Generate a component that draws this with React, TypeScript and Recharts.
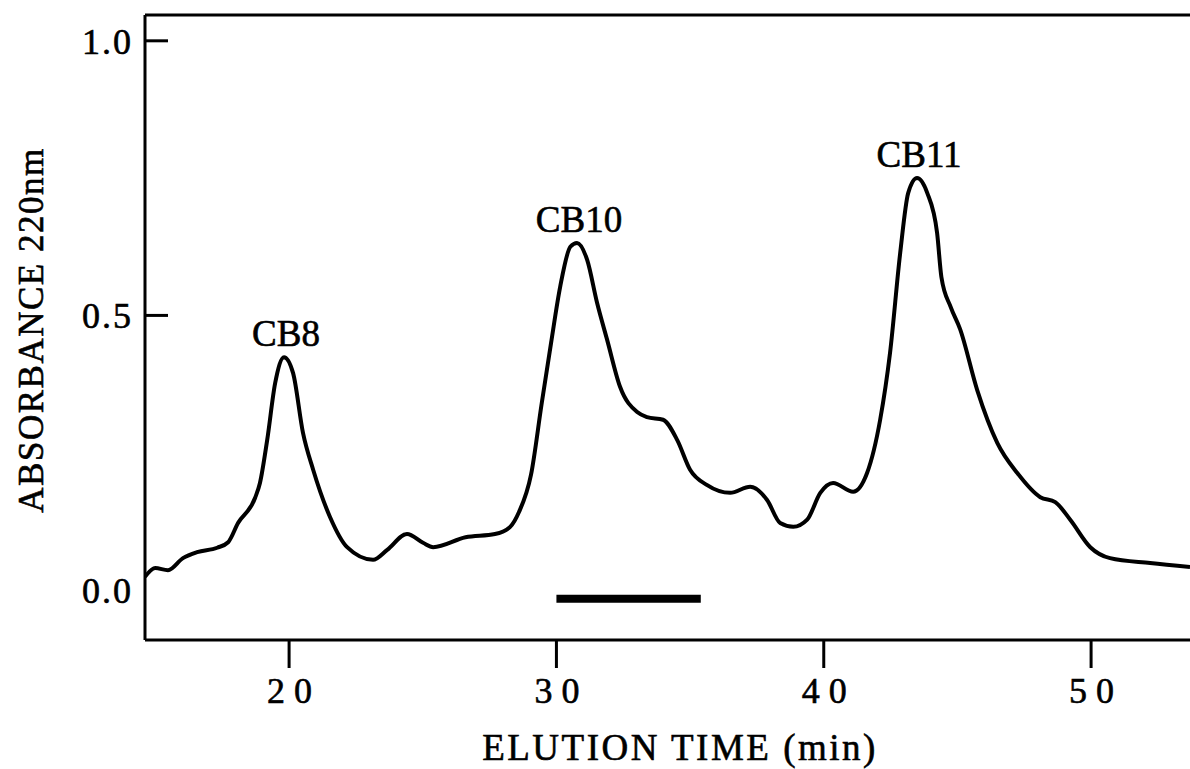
import { LineChart, Line, XAxis, YAxis, ReferenceLine, ReferenceDot, Label } from "recharts"

const FONT = "'Liberation Serif', 'Times New Roman', serif"
// scanned-looking type is a little heavier than the plain face
const INK = { fill: "#000", stroke: "#000", strokeWidth: 0.6 }

// elution time (min) and absorbance at 220 nm, traced along the run
const TIME = [
  14.61, 14.99, 15.47, 16.03, 16.56, 17.31, 17.72, 18.09, 18.73, 18.91, 19.18, 19.48, 19.81, 20.15,
  20.52, 20.9, 21.53, 22.17, 23.14, 23.67, 24.41, 25.01, 25.39, 26.6, 27.7, 28.27, 28.6, 29.05,
  29.45, 29.8, 30.14, 30.52, 30.77, 31.15, 31.52, 31.9, 32.38, 33.02, 33.39, 33.99, 34.52, 35.0,
  35.64, 36.5, 37.25, 37.88, 38.37, 38.86, 39.38, 39.87, 40.35, 41.1, 41.62, 42.11, 42.48, 42.86,
  43.16, 43.49, 43.87, 44.24, 44.4, 44.75, 45.1, 45.74, 46.49, 47.24, 48.1, 48.66, 49.22, 49.97,
  50.71, 52.21, 53.7,
]
const ABSORBANCE = [
  0.024, 0.04, 0.036, 0.058, 0.069, 0.077, 0.087, 0.122, 0.168, 0.195, 0.273, 0.377, 0.424, 0.395,
  0.286, 0.219, 0.133, 0.078, 0.055, 0.073, 0.102, 0.086, 0.078, 0.096, 0.102, 0.115, 0.142, 0.21,
  0.34, 0.45, 0.552, 0.625, 0.632, 0.601, 0.523, 0.455, 0.37, 0.324, 0.315, 0.31, 0.273, 0.219,
  0.191, 0.177, 0.188, 0.164, 0.122, 0.115, 0.128, 0.177, 0.195, 0.179, 0.213, 0.31, 0.432, 0.614,
  0.723, 0.75, 0.723, 0.65, 0.57, 0.515, 0.475, 0.364, 0.268, 0.213, 0.169, 0.16, 0.128, 0.078,
  0.058, 0.049, 0.042,
]

const PEAK_NAMES = ["CB8", "CB10", "CB11"]
const PEAK_TIMES = [19.81, 30.77, 43.49]
const PEAK_VALUES = [0.424, 0.632, 0.75]

const X_TICKS = [20, 30, 40, 50]
const Y_TICKS = [0, 0.5, 1.0]
const X_DOMAIN = [14.61, 53.7]
const Y_DOMAIN = [-0.091, 1.047]

// pooled fraction under CB10
const POOL_START = 30
const POOL_END = 35.4
const POOL_LEVEL = -0.016

const trace = TIME.map((t, i) => ({ time: t, abs: ABSORBANCE[i] }))

function AbsTick({ x, y, payload }: any) {
  const v = Number(payload.value)
  return (
    <g>
      {v > 0 && <line x1={x + 12} x2={x + 35} y1={y} y2={y} stroke="#000" strokeWidth={3} />}
      <text x={x} y={y} dy={13} textAnchor="end" {...INK} fontSize={36} fontFamily={FONT} letterSpacing={2}>
        {v.toFixed(1)}
      </text>
    </g>
  )
}

function TimeTick({ x, y, payload }: any) {
  return (
    <text x={x + 5} y={y} dy={35} textAnchor="middle" {...INK} fontSize={36} fontFamily={FONT} letterSpacing={9}>
      {String(payload.value)}
    </text>
  )
}

function PeakLabel({ viewBox, value }: any) {
  const cx = viewBox.x + viewBox.width / 2
  const cy = viewBox.y + viewBox.height / 2
  return (
    <text x={cx + 2} y={cy - 11} textAnchor="middle" {...INK} fontSize={37} fontFamily={FONT}>
      {value}
    </text>
  )
}

export default function App() {
  return (
    <div style={{ position: "absolute", left: 0, top: 0, width: 1190, height: 769, background: "#fff" }}>
      <LineChart width={1190} height={769} data={trace} margin={{ top: 15, right: 0, left: 45, bottom: 69 }}>
        <XAxis
          dataKey="time"
          type="number"
          domain={X_DOMAIN}
          ticks={X_TICKS}
          allowDataOverflow
          height={60}
          axisLine={{ stroke: "#000", strokeWidth: 3 }}
          tickLine={{ stroke: "#000", strokeWidth: 3 }}
          tickSize={28}
          tickMargin={0}
          tick={<TimeTick />}
        >
          <Label
            content={() => (
              <text x={680} y={760} textAnchor="middle" {...INK} fontSize={37} fontFamily={FONT} letterSpacing={2.5}>
                ELUTION TIME (min)
              </text>
            )}
          />
        </XAxis>
        <YAxis
          type="number"
          domain={Y_DOMAIN}
          ticks={Y_TICKS}
          allowDataOverflow
          width={100}
          axisLine={{ stroke: "#000", strokeWidth: 3 }}
          tickLine={false}
          tickSize={0}
          tickMargin={12}
          tick={<AbsTick />}
        >
          <Label
            content={() => (
              <text
                transform="translate(43, 330) rotate(-90)"
                textAnchor="middle"
                {...INK}
                fontSize={35}
                fontFamily={FONT}
                letterSpacing={1.5}
              >
                ABSORBANCE 220nm
              </text>
            )}
          />
        </YAxis>
        <ReferenceLine y={Y_DOMAIN[1]} stroke="#000" strokeWidth={3} />
        <ReferenceLine
          segment={[
            { x: POOL_START, y: POOL_LEVEL },
            { x: POOL_END, y: POOL_LEVEL },
          ]}
          stroke="#000"
          strokeWidth={8}
        />
        <Line
          dataKey="abs"
          type="monotone"
          stroke="#000"
          strokeWidth={4}
          dot={false}
          isAnimationActive={false}
        />
        {PEAK_NAMES.map((name, i) => (
          <ReferenceDot
            key={name}
            x={PEAK_TIMES[i]}
            y={PEAK_VALUES[i]}
            r={2}
            fill="none"
            stroke="none"
            label={<PeakLabel value={name} />}
          />
        ))}
      </LineChart>
    </div>
  )
}
